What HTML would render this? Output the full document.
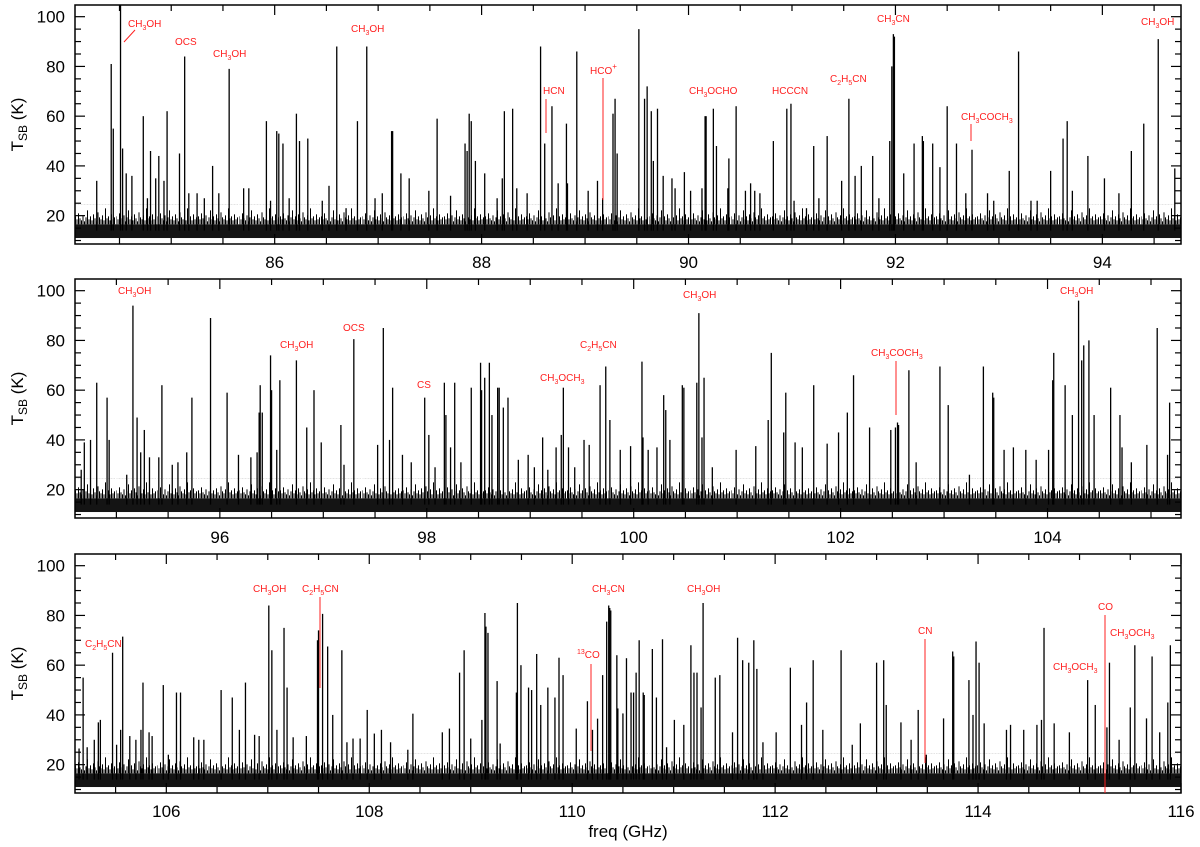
<!DOCTYPE html>
<html><head><meta charset="utf-8">
<style>
html,body{margin:0;padding:0;background:#fff;}
svg{display:block;font-family:"Liberation Sans",sans-serif;}
.ann{fill:#ff2020;font-size:10px;}
.tick{font-size:17px;fill:#000;}
</style></head>
<body>
<svg id="chart" width="1200" height="847" viewBox="0 0 1200 847" xmlns="http://www.w3.org/2000/svg">
<defs id="defs"></defs>
<g id="panels"></g>
<g id="annotations">
 <text class="ann" x="128" y="27">CH<tspan font-size="7" dy="3">3</tspan><tspan dy="-3">OH</tspan></text>
 <line x1="124" y1="42" x2="135" y2="30" stroke="#ff2020" stroke-width="1"/>
 <text class="ann" x="175" y="45">OCS</text>
 <text class="ann" x="213" y="57">CH<tspan font-size="7" dy="3">3</tspan><tspan dy="-3">OH</tspan></text>
 <text class="ann" x="351" y="32">CH<tspan font-size="7" dy="3">3</tspan><tspan dy="-3">OH</tspan></text>
 <text class="ann" x="543" y="94">HCN</text>
 <line x1="546" y1="99" x2="546" y2="133" stroke="#ff2020" stroke-width="1"/>
 <text class="ann" x="590" y="74">HCO<tspan font-size="8" dy="-5">+</tspan></text>
 <line x1="603" y1="78" x2="603" y2="200" stroke="#ff2020" stroke-width="1"/>
 <text class="ann" x="689" y="94">CH<tspan font-size="7" dy="3">3</tspan><tspan dy="-3">OCHO</tspan></text>
 <text class="ann" x="772" y="94">HCCCN</text>
 <text class="ann" x="830" y="82">C<tspan font-size="7" dy="3">2</tspan><tspan dy="-3">H</tspan><tspan font-size="7" dy="3">5</tspan><tspan dy="-3">CN</tspan></text>
 <text class="ann" x="877" y="22">CH<tspan font-size="7" dy="3">3</tspan><tspan dy="-3">CN</tspan></text>
 <text class="ann" x="961" y="120">CH<tspan font-size="7" dy="3">3</tspan><tspan dy="-3">COCH</tspan><tspan font-size="7" dy="3">3</tspan></text>
 <line x1="971" y1="124" x2="971" y2="141" stroke="#ff2020" stroke-width="1"/>
 <text class="ann" x="1141" y="25">CH<tspan font-size="7" dy="3">3</tspan><tspan dy="-3">OH</tspan></text>
 <text class="ann" x="118" y="294">CH<tspan font-size="7" dy="3">3</tspan><tspan dy="-3">OH</tspan></text>
 <text class="ann" x="280" y="348">CH<tspan font-size="7" dy="3">3</tspan><tspan dy="-3">OH</tspan></text>
 <text class="ann" x="343" y="331">OCS</text>
 <text class="ann" x="417" y="388">CS</text>
 <text class="ann" x="540" y="381">CH<tspan font-size="7" dy="3">3</tspan><tspan dy="-3">OCH</tspan><tspan font-size="7" dy="3">3</tspan></text>
 <text class="ann" x="580" y="348">C<tspan font-size="7" dy="3">2</tspan><tspan dy="-3">H</tspan><tspan font-size="7" dy="3">5</tspan><tspan dy="-3">CN</tspan></text>
 <text class="ann" x="683" y="298">CH<tspan font-size="7" dy="3">3</tspan><tspan dy="-3">OH</tspan></text>
 <text class="ann" x="871" y="356">CH<tspan font-size="7" dy="3">3</tspan><tspan dy="-3">COCH</tspan><tspan font-size="7" dy="3">3</tspan></text>
 <line x1="896" y1="361" x2="896" y2="415" stroke="#ff2020" stroke-width="1"/>
 <text class="ann" x="1060" y="294">CH<tspan font-size="7" dy="3">3</tspan><tspan dy="-3">OH</tspan></text>
 <text class="ann" x="85" y="647">C<tspan font-size="7" dy="3">2</tspan><tspan dy="-3">H</tspan><tspan font-size="7" dy="3">5</tspan><tspan dy="-3">CN</tspan></text>
 <text class="ann" x="253" y="592">CH<tspan font-size="7" dy="3">3</tspan><tspan dy="-3">OH</tspan></text>
 <text class="ann" x="302" y="592">C<tspan font-size="7" dy="3">2</tspan><tspan dy="-3">H</tspan><tspan font-size="7" dy="3">5</tspan><tspan dy="-3">CN</tspan></text>
 <line x1="320" y1="597" x2="320" y2="688" stroke="#ff2020" stroke-width="1"/>
 <text class="ann" x="577" y="658"><tspan font-size="7" dy="-4">13</tspan><tspan dy="4">CO</tspan></text>
 <line x1="591" y1="664" x2="591" y2="751" stroke="#ff2020" stroke-width="1"/>
 <text class="ann" x="592" y="592">CH<tspan font-size="7" dy="3">3</tspan><tspan dy="-3">CN</tspan></text>
 <text class="ann" x="687" y="592">CH<tspan font-size="7" dy="3">3</tspan><tspan dy="-3">OH</tspan></text>
 <text class="ann" x="918" y="634">CN</text>
 <line x1="925" y1="639" x2="925" y2="763" stroke="#ff2020" stroke-width="1"/>
 <text class="ann" x="1098" y="610">CO</text>
 <line x1="1105" y1="615" x2="1105" y2="793" stroke="#ff2020" stroke-width="1"/>
 <text class="ann" x="1110" y="636">CH<tspan font-size="7" dy="3">3</tspan><tspan dy="-3">OCH</tspan><tspan font-size="7" dy="3">3</tspan></text>
 <text class="ann" x="1053" y="670">CH<tspan font-size="7" dy="3">3</tspan><tspan dy="-3">OCH</tspan><tspan font-size="7" dy="3">3</tspan></text>
</g>
<text x="628" y="837" text-anchor="middle" font-size="17">freq (GHz)</text>
</svg>
<script>
// ---- data ----
const p1Freqs=[84.28,84.42,84.44,84.51,84.53,84.565,84.62,84.73,84.77,84.80,84.85,84.88,84.93,84.96,85.08,85.13,85.17,85.25,85.32,85.40,85.46,85.56,85.70,85.75,85.92,85.96,86.02,86.04,86.08,86.14,86.21,86.24,86.32,86.46,86.525,86.60,86.69,86.80,86.89,86.97,87.04,87.13,87.14,87.22,87.30,87.49,87.57,87.70,87.84,87.86,87.88,87.90,87.94,88.03,88.15,88.20,88.22,88.30,88.34,88.44,88.57,88.61,88.68,88.74,88.82,88.83,88.92,89.03,89.12,89.17,89.27,89.29,89.31,89.52,89.575,89.60,89.64,89.66,89.70,89.755,89.84,89.87,89.96,90.02,90.13,90.16,90.17,90.24,90.27,90.38,90.39,90.46,90.55,90.60,90.64,90.69,90.82,90.95,90.99,91.02,91.14,91.21,91.26,91.34,91.48,91.55,91.61,91.67,91.78,91.84,91.945,91.965,91.98,91.99,92.08,92.18,92.26,92.27,92.36,92.43,92.50,92.59,92.68,92.74,92.89,92.95,93.10,93.19,93.31,93.37,93.50,93.62,93.66,93.71,93.86,94.02,94.16,94.28,94.40,94.54,94.70];
const p1Temps=[34,81,55,105,47,37,36,60,27,46,35,44,34,62,45,84,29,29,27,40,29,79,31,31,58,26,54,53,49,27,61,50,51,26,32,88,23,58,88,27,29,54,54,37,35,30,59,28,49,46,61,58,42,37,27,35,62,63,31,29,88,49,64,33,57,33,86,30,34,27,61,67,45,95,67,72,62,42,63,36,35,31,37.5,30,31,60,60,63,48,31,43,64,30,33,30,29,50,63,65,26,23,48,27,52,34,67,36,40,44,27,50,80,93,92,37,49,52,50,49,39.5,64,49,29,46.5,29,26,38,86,26,26,38,51,58,30,44,35,29,46,57,91,39];
const p2Freqs=[94.66,94.69,94.75,94.81,94.91,94.93,95.10,95.16,95.20,95.235,95.27,95.32,95.41,95.44,95.54,95.595,95.68,95.73,95.91,96.07,96.18,96.30,96.36,96.38,96.39,96.41,96.49,96.50,96.55,96.58,96.74,96.84,96.91,96.98,97.17,97.20,97.295,97.525,97.58,97.64,97.67,97.765,97.85,97.98,98.02,98.08,98.17,98.185,98.23,98.27,98.33,98.43,98.52,98.53,98.56,98.605,98.63,98.685,98.70,98.74,98.785,98.885,98.98,99.04,99.12,99.17,99.25,99.30,99.32,99.37,99.43,99.52,99.57,99.675,99.73,99.77,99.87,99.97,100.08,100.09,100.14,100.225,100.29,100.31,100.35,100.47,100.485,100.61,100.63,100.66,100.68,100.76,100.99,101.18,101.30,101.33,101.45,101.47,101.56,101.63,101.74,101.87,101.98,102.065,102.125,102.28,102.485,102.53,102.55,102.56,102.66,102.73,102.96,103.04,103.245,103.38,103.47,103.48,103.58,103.67,103.79,103.89,104.01,104.05,104.06,104.17,104.24,104.30,104.33,104.35,104.40,104.45,104.61,104.70,104.72,104.81,104.96,105.06,105.16,105.18];
const p2Temps=[28,39,40,63,57,40,26,94,49,35,44,33,33,62,30,31,35,57,89,59,34,33,35,51,62,51,74,60,36,64,72,45,60,39,46,30,80.5,38,85,40,61,34,31,57,42,29,63,50,37,63,31,61,71,60,65,71,50,61,61,53,57,32,34,29,41,28,37,42,61,37,29,40,38,62,69.5,48,36,37.5,71.5,41,36,37,58,52,40,62,61,63,91,41,65,29,36,37.5,48,75,43,59,39,37,62,38.5,43,51,66,45,44,45,47,46,68,31,69.5,54,26,69.5,59,57,36,37,36,32,36,64,75,62,50,96,72,78,80,50,61,50,37,31,38,85,34,55];
const p3Freqs=[105.14,105.18,105.22,105.29,105.33,105.35,105.47,105.51,105.55,105.57,105.64,105.70,105.75,105.77,105.83,105.86,105.97,106.02,106.10,106.14,106.27,106.32,106.37,106.54,106.65,106.72,106.78,106.87,106.915,107.01,107.04,107.09,107.16,107.19,107.25,107.38,107.49,107.50,107.54,107.59,107.64,107.73,107.78,107.84,107.91,107.98,108.05,108.12,108.21,108.38,108.43,108.72,108.79,108.89,108.935,109.00,109.11,109.14,109.15,109.17,109.26,109.29,109.45,109.46,109.495,109.57,109.60,109.65,109.69,109.76,109.83,109.87,109.91,110.04,110.15,110.20,110.25,110.30,110.34,110.36,110.37,110.38,110.44,110.45,110.50,110.535,110.58,110.605,110.63,110.66,110.70,110.71,110.79,110.83,110.89,110.93,111.007,111.10,111.17,111.20,111.23,111.27,111.29,111.41,111.455,111.58,111.63,111.68,111.74,111.79,111.82,111.88,112.01,112.15,112.26,112.31,112.375,112.47,112.65,112.76,112.84,113.00,113.07,113.095,113.24,113.34,113.41,113.49,113.66,113.75,113.76,113.91,113.95,113.98,114.01,114.06,114.28,114.32,114.45,114.58,114.625,114.65,114.75,114.90,115.08,115.155,115.27,115.295,115.39,115.50,115.545,115.66,115.715,115.79,115.87,115.895];
const p3Temps=[26.5,55,27,30,37,38,65,28,34,71.5,31.5,30,34,53,33,31.5,52,24,49,49,31,30,30,50,47,34,53,32,31.5,84,66,34,75,51,31,31.5,70,74,80.6,67.5,40,66,29,30.5,30.5,42,32.5,34,29,26,40.5,33,34.5,57,66,30.5,38,81,75.5,73,53.6,28.5,49,85,60,51,50,64.5,44,51,47,63,56,34.5,45.5,34,38.5,56,77.5,84,83,82,64,42.6,40.6,62.8,49,49,57,70,49,48,66.5,47,70.4,27,38,36,68,57,57,43,85,55,56,33,71,62,61,70,58.5,29,33,59,36,45,62,34,66,28,36.6,61,62,44,37,30,42,24,38.6,65.5,63.5,54,40,69.5,61,36.6,34,36,34,36,38,75,36.6,33,54,44,35,61,30,43,68,38.6,63.5,33,45,68];
const yTickValues=[20,40,60,80,100];
const p1TickLabels=["86","88","90","92","94"];
const p2TickLabels=["96","98","100","102","104"];
const p3TickLabels=["106","108","110","112","114","116"];

const panels=[
 {name:"panel-1",f0:84.07,f1:94.76,top:5,bottom:244,freqs:p1Freqs,temps:p1Temps,labels:p1TickLabels,labelY:268},
 {name:"panel-2",f0:94.60,f1:105.29,top:279,bottom:518,freqs:p2Freqs,temps:p2Temps,labels:p2TickLabels,labelY:543},
 {name:"panel-3",f0:105.10,f1:116.0,top:554,bottom:793,freqs:p3Freqs,temps:p3Temps,labels:p3TickLabels,labelY:817}
];
const X0=75,X1=1181,TMIN=8.6,TMAX=104.7,BASE=14;
const NS="http://www.w3.org/2000/svg";
const root=document.getElementById('panels');
const defs=document.getElementById('defs');
const NOISE_PATH="M0.5 20V12 M2 20V15 M3.5 20V9 M5 20V14 M6.5 20V16 M8 20V11 M9.5 20V17 M11 20V13 M12.5 20V6 M14 20V15 M15.5 20V12 M17 20V16 M18.5 20V10 M20 20V14 M21.5 20V17 M23 20V8 M24.5 20V13 M26 20V15 M27.5 20V11 M29 20V16 M30.5 20V4 M32 20V14 M33.5 20V12 M35 20V16 M36.5 20V10 M38 20V15 M39.5 20V13";
function mk(tag,attrs,parent){const e=document.createElementNS(NS,tag);for(const k in attrs)e.setAttribute(k,attrs[k]);parent.appendChild(e);return e;}

panels.forEach(p=>{
 const xs=f=>X0+(f-p.f0)/(p.f1-p.f0)*(X1-X0);
 const ys=t=>p.bottom-(t-TMIN)/(TMAX-TMIN)*(p.bottom-p.top);
 const g=mk('g',{},root);
 
 
 const clipId='clip-'+p.name;
 const cp=mk('clipPath',{id:clipId},g);
 mk('rect',{x:X0,y:p.top,width:X1-X0,height:p.bottom-p.top},cp);
 const data=mk('g',{'clip-path':'url(#'+clipId+')'},g);
 const ptop=ys(16.5)-20;
 const pat=mk('pattern',{id:'noise-'+p.name,x:X0,y:ptop,width:41,height:20,patternUnits:'userSpaceOnUse'},defs);
 mk('path',{d:NOISE_PATH,stroke:'#000','stroke-width':1},pat);
 const band=mk('rect',{x:X0,y:ptop,width:X1-X0,height:20.5,fill:'url(#noise-'+p.name+')'},data);
 
 
 const band2=mk('rect',{x:X0,y:ys(16.5),width:X1-X0,height:ys(11)-ys(16.5),fill:'#000',opacity:'0.92'},data);
 
 
 p.freqs.forEach((f,i)=>{
  const x=xs(f);
  const l=mk('line',{x1:x,x2:x,y1:ys(BASE),y2:ys(p.temps[i]),stroke:'#000','stroke-width':1.3},data);
  
  
 });
 const fr=mk('rect',{x:X0,y:p.top,width:X1-X0,height:p.bottom-p.top,fill:'none',stroke:'#000','stroke-width':1.5},g);
 
 
 const ax=mk('g',{stroke:'#000','stroke-width':1.2},g);
 
 
 for(let f=Math.ceil(p.f0*2)/2; f<=p.f1+1e-6; f+=0.5){
  const x=xs(f);const major=Math.abs(f-Math.round(f))<1e-6 && Math.round(f)%2===0;const len=major?10:6;
  mk('line',{x1:x,x2:x,y1:p.bottom,y2:p.bottom-len},ax);
  mk('line',{x1:x,x2:x,y1:p.top,y2:p.top+len},ax);
 }
 p.labels.forEach(lbl=>{
  const t=mk('text',{x:xs(parseFloat(lbl)),y:p.labelY,'text-anchor':'middle',class:'tick'},g);
  t.textContent=lbl;
  
  
 });
 for(let v=10; v<=TMAX; v+=5){
  const y=ys(v);const len=(v%20===0)?10:6;
  mk('line',{x1:X0,x2:X0+len,y1:y,y2:y},ax);
  mk('line',{x1:X1,x2:X1-len,y1:y,y2:y},ax);
 }
 yTickValues.forEach(v=>{
  const t=mk('text',{x:65,y:ys(v)+6,'text-anchor':'end',class:'tick'},g);
  t.textContent=String(v);
  
  
 });
 const yl=mk('text',{transform:'translate(23,'+((p.top+p.bottom)/2)+') rotate(-90)','text-anchor':'middle','font-size':'17'},g);
 
 
 const t1=mk('tspan',{},yl);t1.textContent='T';
 const t2=mk('tspan',{'font-size':'12',dy:'4'},yl);t2.textContent='SB';
 const t3=mk('tspan',{dy:'-4'},yl);t3.textContent=' (K)';
});
</script>
</body></html>
